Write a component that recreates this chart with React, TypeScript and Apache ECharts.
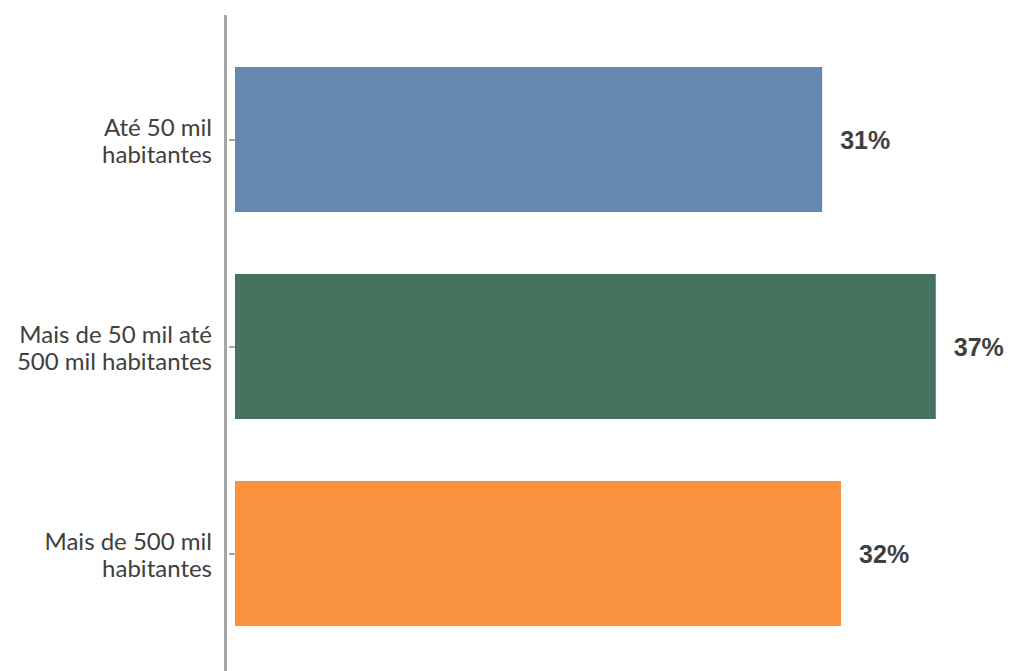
import React, { useEffect, useRef } from "react";
import * as echarts from "echarts";

const categories = ["Até 50 mil\nhabitantes", "Mais de 50 mil até\n500 mil habitantes", "Mais de 500 mil\nhabitantes"];
const values = [31, 37, 32];
const colors = ["#6488B0", "#44745F", "#F9913E"];

export default function App() {
  const ref = useRef<HTMLDivElement>(null);
  useEffect(() => {
    const chart = echarts.init(ref.current!, null, { renderer: "svg" });
    chart.setOption({
      animation: false,
      grid: { left: 235, right: 17.4, top: 36, bottom: 14, containLabel: false },
      xAxis: {
        type: "value",
        min: 0,
        max: 40,
        show: false,
      },
      yAxis: {
        type: "category",
        data: categories,
        inverse: true,
        offset: 9,
        axisLine: { show: false },
        axisTick: { show: true, alignWithLabel: true, length: 6, lineStyle: { color: "#8c8c8c", width: 1.5 } },
        axisLabel: {
          margin: 14,
          fontFamily: "Lato",
          fontSize: 24,
          lineHeight: 27,
          color: "#404040",
          align: "right",
        },
      },
      graphic: [
        {
          type: "line",
          shape: { x1: 225.5, y1: 15, x2: 225.5, y2: 671 },
          style: { stroke: "#a6a6a6", lineWidth: 3 },
        },
      ],
      series: [
        {
          type: "bar",
          barCategoryGap: "30%",
          data: values.map((v, i) => ({ value: v, itemStyle: { color: colors[i] } })),
          label: {
            show: true,
            position: "right",
            distance: 18,
            formatter: "{c}%",
            fontFamily: "Liberation Sans",
            fontWeight: "bold",
            fontSize: 25,
            color: "#404040",
          },
        },
      ],
    });
    return () => chart.dispose();
  }, []);
  return <div ref={ref} style={{ width: 1010, height: 671, position: "absolute", left: 0, top: 0 }} />;
}
